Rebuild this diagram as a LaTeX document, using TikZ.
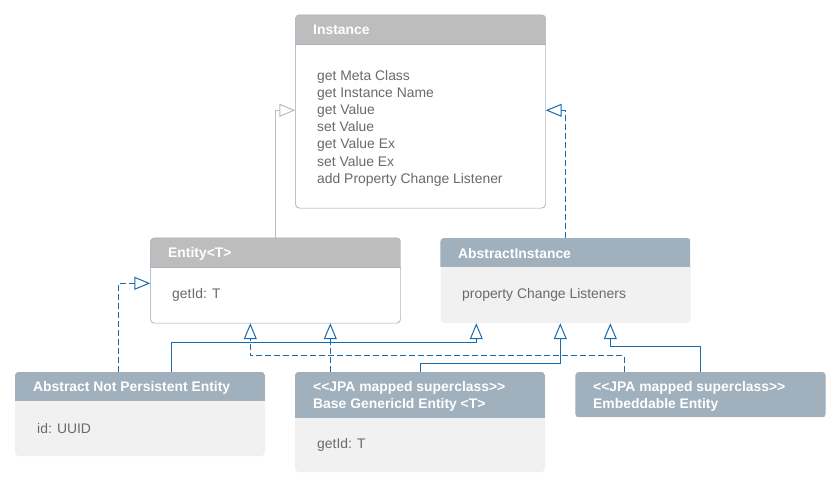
\documentclass[tikz,border=0pt]{standalone}
\usepackage{fontspec}
\setmainfont{Liberation Sans}
\usetikzlibrary{calc,positioning,arrows.meta}
\definecolor{hdrgray}{HTML}{BDBDBD}
\definecolor{hdrblue}{HTML}{A0B0BD}
\definecolor{bodyfill}{HTML}{F1F1F1}
\definecolor{framecol}{HTML}{A3B3C2}
\definecolor{linkblue}{HTML}{1A6BAE}
\definecolor{linkgray}{HTML}{BBBBBB}
\definecolor{txtgray}{HTML}{6A6A6A}
\tikzset{
  cls/.style={rounded corners=4pt, inner sep=0pt, minimum width=250pt},   % class box
  plaincls/.style={cls, draw=framecol, fill=white},
  abscls/.style={cls, fill=bodyfill},
  title/.style={anchor=west, text=white, inner sep=0pt, align=left,
                font=\fontsize{13.9}{16.5}\selectfont\bfseries},
  member/.style={anchor=west, text=txtgray, inner sep=0pt, align=left,
                 font=\fontsize{13.9}{17.15}\selectfont},
  gen/.style={draw=linkblue, line width=1pt, -{Triangle[open, length=16pt, width=13pt]}},
  impl/.style={gen, dash pattern=on 6pt off 3pt},
  graygen/.style={gen, draw=linkgray}
}
% header band of a class box: name, height, colour
\newcommand{\clshead}[3]{%
  \begin{scope}
    \clip[rounded corners=4pt] (#1.south west) rectangle (#1.north east);
    \fill[#3] (#1.north west) rectangle ($(#1.north east)+(0,#2)$);
  \end{scope}}

\begin{document}
\begin{tikzpicture}[x=1pt, y=-1pt]
  \fill[white] (0,0) rectangle (840,488);

  % class boxes
  \node[plaincls, minimum height=193pt] (inst) at (420.5,111.5) {};
  \node[plaincls, minimum height=85pt] (ent) at (275.5,280.5) {};
  \node[abscls, minimum height=85pt] (abs) at (565.5,280.5) {};
  \node[abscls, minimum height=84pt] (anpe) at (140,414) {};
  \node[abscls, minimum height=100pt] (bgie) at (420,422) {};
  \node[abscls, minimum height=45.5pt] (emb) at (700.5,394.75) {};

  \clshead{inst}{29}{hdrgray}
  \clshead{ent}{29}{hdrgray}
  \clshead{abs}{29.5}{hdrblue}
  \clshead{anpe}{29.5}{hdrblue}
  \clshead{bgie}{46}{hdrblue}
  \clshead{emb}{45.5}{hdrblue}
  \foreach \c in {inst,ent}
  {
    \draw[framecol, rounded corners=4pt] (\c.south west) rectangle (\c.north east);
    \draw[framecol] ($(\c.north west)+(0,29)$) -- ($(\c.north east)+(0,29)$);
  }

  % titles
  \node[title] (instT) at (313,30) {Instance};
  \node[title] (entT) at (168,254) {Entity<T>};
  \node[title] (absT) at (458,254) {AbstractInstance};
  \node[title] (anpeT) at (33,388) {Abstract Not Persistent Entity};
  \node[title] (bgieT) at (313,396.5) {<{}<JPA mapped superclass>{}>\\Base GenericId Entity <T>};
  \node[title] (embT) at (593,396.5) {<{}<JPA mapped superclass>{}>\\Embeddable Entity};

  % members
  \node[member, anchor=north west] (instM) at (317,70)
    {get Meta Class\\get Instance Name\\get Value\\set Value\\get Value Ex\\set Value Ex\\add Property Change Listener};
  \node[member] (entM) at (172,294.5) {getId: T};
  \node[member] (absM) at (462,294.5) {property Change Listeners};
  \node[member] (anpeM) at (37,428.5) {id: UUID};
  \node[member] (bgieM) at (317,444.5) {getId: T};

  % inheritance
  \draw[graygen] (ent.north) |- ($(inst.north west)+(0,95.5)$);
  \draw[impl] (abs.north) |- ($(inst.north east)+(0,95.5)$);
  \draw[impl] ($(anpe.north west)+(103.5,0)$) |- ($(ent.north west)+(0,45.5)$);
  \draw[gen] ($(anpe.north west)+(156.5,0)$) |- ($(abs.south west)+(36,19.5)$) -- ($(abs.south west)+(36,0)$);
  \draw[impl] ($(bgie.north west)+(35.5,0)$) -- ($(ent.south west)+(180,0)$);
  \draw[gen] ($(bgie.north west)+(125.5,0)$) |- ($(abs.south west)+(120,40.5)$) -- ($(abs.south west)+(120,0)$);
  \draw[impl] ($(emb.north west)+(49,0)$) |- ($(ent.south west)+(100,32.5)$) -- ($(ent.south west)+(100,0)$);
  \draw[gen] (emb.north) |- ($(abs.south west)+(170,23.5)$) -- ($(abs.south west)+(170,0)$);
\end{tikzpicture}
\end{document}
